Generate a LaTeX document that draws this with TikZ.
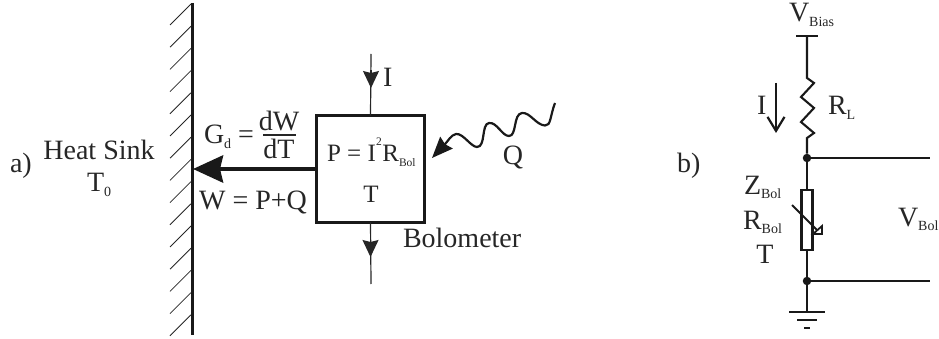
\documentclass[tikz,border=0pt]{standalone}
\usepackage{fontspec}
\setmainfont{Liberation Serif}
\usetikzlibrary{arrows.meta, positioning, calc}

\newcommand{\sbt}[1]{\raisebox{-4.5pt}{\fontsize{14}{15}\selectfont #1}}
\newcommand{\sbx}[1]{\raisebox{-4.5pt}{\fontsize{11.5}{12}\selectfont #1}}
\newcommand{\spt}[1]{\raisebox{16pt}{\fontsize{11.5}{12}\selectfont #1}}

\tikzset{
  lbl/.style={anchor=base, inner sep=0pt, outer sep=0pt},
  lblw/.style={anchor=base west, inner sep=0pt, outer sep=0pt},
  boxtxt/.style={font=\fontsize{25}{28}\selectfont},
  wire/.style={line width=2.1pt, black!90},
  thinwire/.style={line width=1.2pt, black!85},
  dot/.style={circle, fill=black!90, inner sep=0pt, minimum size=8.5pt},
  head/.style={-{Stealth[length=17pt, width=16pt, inset=2pt]}},
}

\begin{document}
\begin{tikzpicture}[x=1pt, y=-1pt, font=\fontsize{28}{30}\selectfont, text=black!85]
      \useasboundingbox (0,0) rectangle (939,339);

      % a) wall and hatching
      \coordinate (walltop) at (192,3);
      \coordinate (wallbot) at (192,335);
      \draw[line width=3pt, black!90] (walltop) -- (wallbot);
      \foreach \n in {0,...,14}
        \draw[line width=0.8pt, black!85] (170,25+22.2*\n) -- ++(21,-21);

      \node[lblw] (parta) at (10,173) {a)};
      \node[lbl] (sink) at (99,160) {Heat Sink};
      \node[lblw] (sinkt) at (87,192) {T\sbt{0}};

      % a) bolometer block
      \node[draw=black!90, line width=3pt, minimum width=108pt, minimum height=106pt,
            inner sep=0pt, outer sep=0pt] (bolo) at (370.5,169) {};
      \node[lblw, boxtxt] (power) at (327,162) {P = I\kern0.3pt\spt{2}\kern0.5pt R\sbx{Bol}};
      \node[lbl, boxtxt] (bolot) at (371,203) {T};
      \node[lblw] (bololbl) at (403,247) {Bolometer};

      \coordinate (itop) at (371,54);
      \coordinate (ibot) at (371,284);
      \draw[thinwire] (itop) -- (bolo.north);
      \draw[thinwire] (bolo.south) -- (ibot);
      \path (itop) -- ++(0,16) coordinate (ihead1) -- ++(0,18) coordinate (ihead2);
      \draw[head, thinwire] (ihead1) -- (ihead2);
      \path (bolo.south) -- ++(0,17) coordinate (ohead1) -- ++(0,18) coordinate (ohead2);
      \draw[head, thinwire] (ohead1) -- (ohead2);
      \node[lblw] (ilbl) at (383,87) {I};

      % a) heat flow
      \coordinate (wallhit) at (193,169);
      \draw[line width=4.5pt, black!90, -{Stealth[length=30pt, width=27pt, inset=3pt]}] (bolo.west) -- (wallhit);
      \node[lblw] (gd) at (204,144) {G\sbt{d} =};
      \node[lbl] (dw) at (279,131) {dW};
      \node[lbl] (dt) at (279,159) {dT};
      \draw[line width=1.2pt, black!85] (263,135) -- (296,135);
      \node[lbl] (wpq) at (253,210) {W = P+Q};

      % a) radiation
      \coordinate (qstart) at (555,103);
      \coordinate (qtip) at (432,158);
      \draw[line width=2.2pt, black!90, -{Stealth[length=21pt, width=17pt, inset=2pt]}]
        (qstart) .. controls (550,116) and (551,126) .. (545,125.5)
        .. controls (536,125) and (530,112) .. (522,113)
        .. controls (513,114) and (517,136) .. (509,136)
        .. controls (502,136) and (497,122) .. (489,123)
        .. controls (481,124) and (486,147) .. (477,147)
        .. controls (471,147) and (463,133) .. (456,134)
        .. controls (451,135) and (448,141) .. (qtip);
      \node[lbl] (qlbl) at (513,165) {Q};

      % b) circuit
      \node[lblw] (partb) at (677,173) {b)};
      \node[lblw] (vbias) at (789,22) {V\sbt{Bias}};
      \coordinate (biasl) at (796,36);
      \coordinate (biasr) at (818,36);
      \coordinate (bias) at (807,36);
      \coordinate (rtop) at (807,78);
      \coordinate (rbot) at (807,138);
      \node[dot] (upper) at (807,158) {};
      \node[dot] (lower) at (807,281) {};
      \coordinate (upperr) at (930,158);
      \coordinate (lowerr) at (930,281);
      \coordinate (gnd) at (807,312);
      \node[draw=black!90, line width=2.2pt, minimum width=11pt, minimum height=60pt,
            inner sep=0pt, outer sep=0pt] (bolor) at (807,220) {};

      \draw[wire] (biasl) -- (biasr);
      \draw[wire] (bias) -- (rtop) -- ++(7,5) -- ++(-13,14) -- ++(13,11) -- ++(-13,14) -- ++(13,11) -- (rbot) -- (upper);
      \draw[wire] (upper) -- (bolor.north);
      \draw[wire] (bolor.south) -- (lower);
      \draw[wire] (lower) -- (gnd);
      \draw[wire] (upper) -- (upperr);
      \draw[wire] (lower) -- (lowerr);

      % b) ground
      \draw[wire] (789,312) -- (825,312);
      \draw[wire] (797,320) -- (817,320);
      \draw[wire] (804,328) -- (810,328);

      % b) variable element
      \coordinate (vara) at (792,205);
      \coordinate (varb) at (817,230);
      \draw[wire] (vara) -- (varb);
      \draw[line width=1.8pt, black!90] (813,234) -- (822,234) -- (822,226) -- cycle;

      % b) current arrow
      \coordinate (cura) at (776,83);
      \coordinate (curb) at (776,133);
      \draw[line width=2.2pt, black!90, -{Straight Barb[length=14pt, width=17pt]}] (cura) -- (curb);

      \node[lblw] (curlbl) at (757,115) {I};
      \node[lblw] (rl) at (828,115) {R\sbt{L}};
      \node[lblw] (zbol) at (744,194) {Z\sbt{Bol}};
      \node[lblw] (rbol) at (743,229) {R\sbt{Bol}};
      \node[lbl] (tbol) at (765,263) {T};
      \node[lblw] (vbol) at (898,226) {V\sbt{Bol}};
\end{tikzpicture}
\end{document}
